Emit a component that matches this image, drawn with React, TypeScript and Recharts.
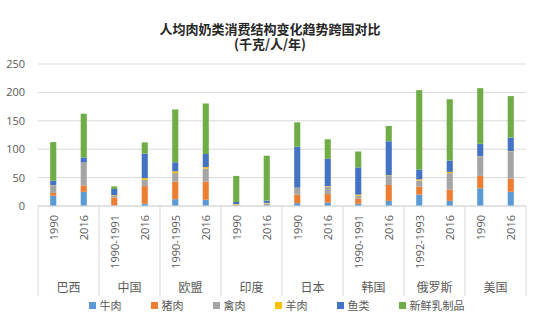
import { CSSProperties } from "react";
import { BarChart, Bar, XAxis, YAxis, CartesianGrid, Legend } from "recharts";

const countries = ["巴西", "中国", "欧盟", "印度", "日本", "韩国", "俄罗斯", "美国"];
const years = [
  "1990", "2016", "1990-1991", "2016", "1990-1995", "2016", "1990", "2016",
  "1990", "2016", "1990-1991", "2016", "1992-1993", "2016", "1990", "2016",
];

const beef = [18, 25, 1, 4, 12, 11, 1, 1, 5, 6, 4, 9, 20, 9, 31, 25];
const pork = [5, 11, 14, 31, 31, 32, 0.5, 0.5, 15, 15, 9, 28, 14, 20, 22, 23];
const poultry = [13, 40, 3, 11, 15, 23, 1, 3, 12, 13, 5, 16, 11, 29, 34, 48];
const mutton = [0.5, 0.5, 1, 3, 3, 2.5, 1, 1, 0.3, 1, 2, 1, 2, 2, 0.5, 0.5];
const fish = [8, 9, 11, 43, 16, 23, 3.5, 4, 72, 48, 48, 60, 17, 20, 22, 24];
const dairy = [68, 77, 4.5, 20, 93, 89, 46, 79, 43, 34.5, 28, 27, 140, 108, 98, 73];

const yTicks = [0, 50, 100, 150, 200, 250];

const series = [
  { key: "beef", name: "牛肉", color: "#5B9BD5" },
  { key: "pork", name: "猪肉", color: "#ED7D31" },
  { key: "poultry", name: "禽肉", color: "#A5A5A5" },
  { key: "mutton", name: "羊肉", color: "#FFC000" },
  { key: "fish", name: "鱼类", color: "#4472C4" },
  { key: "dairy", name: "新鲜乳制品", color: "#70AD47" },
];

const data = years.map((year, i) => ({
  id: String(i),
  year,
  beef: beef[i],
  pork: pork[i],
  poultry: poultry[i],
  mutton: mutton[i],
  fish: fish[i],
  dairy: dairy[i],
}));

const FONT = "'Open Sans', 'Noto Sans CJK SC', sans-serif";
const TEXT = "#595959";
const LINE = "#D9D9D9";
const SLOT = 488 / 16;

function CategoryTick(props: any) {
  const { x, y, payload } = props;
  const i = Number(payload.value);
  const first = i % 2 === 0;
  return (
    <g>
      <text
        transform={`translate(${x},${y + 9}) rotate(-90)`}
        textAnchor="end"
        dominantBaseline="central"
        fontSize={11}
        fill={TEXT}
        fontFamily={FONT}
      >
        {years[i]}
      </text>
      {first && (
        <>
          <line x1={x - SLOT / 2} x2={x - SLOT / 2} y1={y} y2={y + 90} stroke={LINE} />
          <text
            x={x + SLOT / 2}
            y={y + 86}
            textAnchor="middle"
            fontSize={12}
            fill={TEXT}
            fontFamily={FONT}
          >
            {countries[i / 2]}
          </text>
        </>
      )}
      {i === years.length - 1 && (
        <line x1={x + SLOT / 2} x2={x + SLOT / 2} y1={y} y2={y + 90} stroke={LINE} />
      )}
    </g>
  );
}

function LegendContent() {
  const rowStyle: CSSProperties = {
    display: "flex",
    justifyContent: "center",
    alignItems: "center",
    fontFamily: FONT,
    fontSize: "11px",
    color: TEXT,
  };
  return (
    <div style={rowStyle}>
      {series.map((s, i) => (
        <div
          key={s.key}
          style={{
            display: "flex",
            alignItems: "center",
            width: i === series.length - 1 ? "auto" : "62px",
          }}
        >
          <span style={{ width: 7, height: 7, background: s.color, marginRight: 4, display: "inline-block" }} />
          <span>{s.name}</span>
        </div>
      ))}
    </div>
  );
}

export default function App() {
  const titleStyle: CSSProperties = {
    position: "absolute",
    left: 0,
    top: 21,
    width: 540,
    textAlign: "center",
    fontFamily: "'Noto Sans CJK SC', sans-serif",
    fontWeight: 700,
    fontSize: "13px",
    lineHeight: "15px",
    color: "#262626",
  };
  return (
    <div style={{ position: "absolute", left: 0, top: 0, width: 553, height: 333, background: "#fff" }}>
      <div style={titleStyle}>
        <div>人均肉奶类消费结构变化趋势跨国对比</div>
        <div>(千克/人/年)</div>
      </div>
      <BarChart
        width={553}
        height={333}
        data={data}
        margin={{ top: 64, right: 27, left: 0, bottom: 0 }}
        barCategoryGap="60%"
      >
        <CartesianGrid vertical={false} stroke={LINE} />
        <XAxis
          dataKey="id"
          height={127}
          interval={0}
          tickLine={false}
          tickSize={0}
          tickMargin={0}
          axisLine={{ stroke: LINE }}
          tick={<CategoryTick />}
        />
        <YAxis
          width={38}
          domain={[0, 250]}
          ticks={yTicks}
          axisLine={false}
          tickLine={false}
          tickMargin={7}
          tick={{ fontSize: 11, fill: TEXT, fontFamily: FONT }}
        />
        <Legend
          layout="horizontal"
          verticalAlign="middle"
          align="center"
          content={<LegendContent />}
          wrapperStyle={{ top: 297, left: 0, width: 553, height: 16 }}
        />
        {series.map((s) => (
          <Bar
            key={s.key}
            dataKey={s.key}
            name={s.name}
            stackId="a"
            fill={s.color}
            isAnimationActive={false}
          />
        ))}
      </BarChart>
    </div>
  );
}
